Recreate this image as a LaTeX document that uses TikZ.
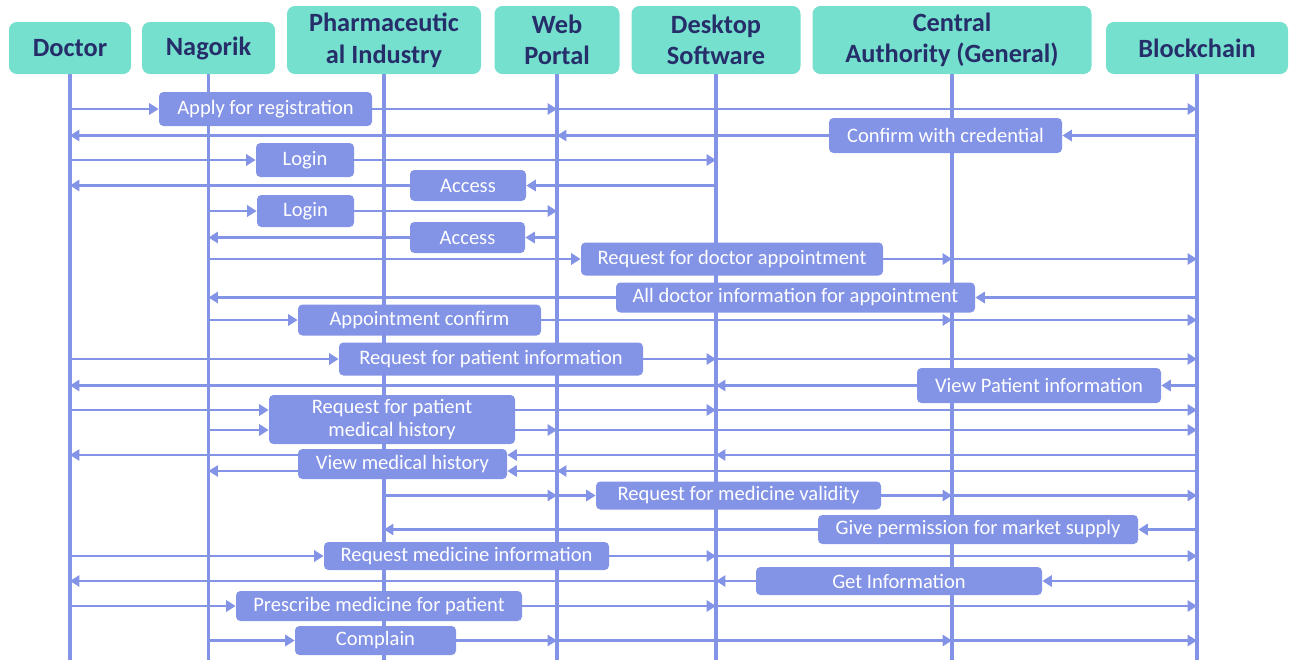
\documentclass[tikz,border=0pt]{standalone}
\usepackage{fontspec}
\setmainfont{Carlito}
\usepackage{tikz}
\usetikzlibrary{arrows.meta}
\pgfdeclarelayer{bg}
\pgfsetlayers{bg,main}
\definecolor{hdrfill}{HTML}{75E0CE}
\definecolor{hdrtext}{HTML}{262E6A}
\definecolor{msgblue}{HTML}{8393E6}
\tikzset{
    actor/.style={fill=hdrfill, text=hdrtext, rounded corners=4.5pt, align=center,
        inner sep=0pt, font=\fontsize{15}{18}\selectfont\bfseries},
    msgbox/.style={fill=msgblue, text=white, rounded corners=2.5pt, align=center,
        inner sep=0pt, font=\fontsize{11.7}{13.2}\selectfont},
    bw/.style={minimum width=#1*0.02cm},
    bh/.style={minimum height=#1*0.02cm},
    life/.style={draw=msgblue, line width=1.9pt},
    msg/.style={draw=msgblue, line width=1.6pt, -{Triangle[length=5.4pt,width=6.4pt]}},
}

\begin{document}
\begin{tikzpicture}[x=0.02cm, y=-0.02cm]
    \useasboundingbox (0,0) rectangle (1291,660);
    % actors
    \node[actor, bw=122, bh=52] (doc)  at (70,48)    {Doctor};
    \node[actor, bw=133, bh=52] (nag)  at (208.5,48) {Nagorik};
    \node[actor, bw=194, bh=68] (pha)  at (384,40)   {Pharmaceutic\\al Industry};
    \node[actor, bw=125, bh=68] (web)  at (557,40)   {Web\\Portal};
    \node[actor, bw=169, bh=68] (desk) at (716,40)   {Desktop\\Software};
    \node[actor, bw=279, bh=68] (cen)  at (952,40)   {Central\\Authority (General)};
    \node[actor, bw=182, bh=52] (bc)   at (1197,48)  {Blockchain};
    \coordinate (bot) at (0,660);
    \coordinate (h1) at (0,410);
    \coordinate (h2) at (0,430);
    \coordinate (v1) at (0,455);
    \coordinate (v2) at (0,471);

    % messages
    \node[msgbox, bw=213, bh=34] (apply)     at (265.5,109)  {Apply for registration};
    \node[msgbox, bw=233, bh=35] (confirm)   at (945.5,135.5) {Confirm with credential};
    \node[msgbox, bw=98,  bh=34] (logind)    at (305,160)    {Login};
    \node[msgbox, bw=116, bh=31] (accessd)   at (468,185.5)  {Access};
    \node[msgbox, bw=97,  bh=32] (loginn)    at (305.5,211)  {Login};
    \node[msgbox, bw=115, bh=31] (accessn)   at (467.5,237.5) {Access};
    \node[msgbox, bw=302, bh=33] (reqapp)    at (732,259)    {Request for doctor appointment};
    \node[msgbox, bw=359, bh=30] (docinfo)   at (795.5,297.5) {All doctor information for appointment};
    \node[msgbox, bw=243, bh=31] (appconf)   at (419.5,320)  {Appointment confirm};
    \node[msgbox, bw=304, bh=33] (reqpat)    at (491,359)    {Request for patient information};
    \node[msgbox, bw=244, bh=35] (viewpat)   at (1039,385.5) {View Patient information};
    \node[msgbox, bw=246, bh=49] (reqhist)   at (392,419.5)  {Request for patient\\medical history};
    \node[msgbox, bw=209, bh=30] (viewhist)  at (402.5,464)  {View medical history};
    \node[msgbox, bw=285, bh=28] (reqval)    at (738.5,495.5) {Request for medicine validity};
    \node[msgbox, bw=320, bh=29] (permit)    at (978,529.5)  {Give permission for market supply};
    \node[msgbox, bw=285, bh=28] (reqmed)    at (466.5,556)  {Request medicine information};
    \node[msgbox, bw=286, bh=28] (getinfo)   at (899,581)    {Get Information};
    \node[msgbox, bw=286, bh=30] (prescribe) at (379,606)    {Prescribe medicine for patient};
    \node[msgbox, bw=161, bh=29] (complain)  at (375.5,640.5) {Complain};

    \begin{pgfonlayer}{bg}
        \foreach \a in {doc,nag,pha,web,desk,cen,bc}
            \draw[life] (\a.south) -- (\a.south |- bot);

        \draw[msg] (doc |- apply) -- (apply.west);
        \draw[msg] (apply.east) -- (web |- apply);
        \draw[msg] (web |- apply) -- (bc |- apply);

        \draw[msg] (bc |- confirm) -- (confirm.east);
        \draw[msg] (confirm.west) -- (web |- confirm);
        \draw[msg] (web |- confirm) -- (doc |- confirm);

        \draw[msg] (doc |- logind) -- (logind.west);
        \draw[msg] (logind.east) -- (desk |- logind);

        \draw[msg] (desk |- accessd) -- (accessd.east);
        \draw[msg] (accessd.west) -- (doc |- accessd);

        \draw[msg] (nag |- loginn) -- (loginn.west);
        \draw[msg] (loginn.east) -- (web |- loginn);

        \draw[msg] (web |- accessn) -- (accessn.east);
        \draw[msg] (accessn.west) -- (nag |- accessn);

        \draw[msg] (nag |- reqapp) -- (reqapp.west);
        \draw[msg] (reqapp.east) -- (cen |- reqapp);
        \draw[msg] (cen |- reqapp) -- (bc |- reqapp);

        \draw[msg] (bc |- docinfo) -- (docinfo.east);
        \draw[msg] (docinfo.west) -- (nag |- docinfo);

        \draw[msg] (nag |- appconf) -- (appconf.west);
        \draw[msg] (appconf.east) -- (cen |- appconf);
        \draw[msg] (cen |- appconf) -- (bc |- appconf);

        \draw[msg] (doc |- reqpat) -- (reqpat.west);
        \draw[msg] (reqpat.east) -- (desk |- reqpat);
        \draw[msg] (desk |- reqpat) -- (bc |- reqpat);

        \draw[msg] (bc |- viewpat) -- (viewpat.east);
        \draw[msg] (viewpat.west) -- (desk |- viewpat);
        \draw[msg] (desk |- viewpat) -- (doc |- viewpat);

        \draw[msg] (doc |- h1) -- (reqhist.west |- h1);
        \draw[msg] (reqhist.east |- h1) -- (desk |- h1);
        \draw[msg] (desk |- h1) -- (bc |- h1);
        \draw[msg] (nag |- h2) -- (reqhist.west |- h2);
        \draw[msg] (reqhist.east |- h2) -- (web |- h2);
        \draw[msg] (web |- h2) -- (bc |- h2);

        \draw[msg] (bc |- v1) -- (desk |- v1);
        \draw[msg] (desk |- v1) -- (viewhist.east |- v1);
        \draw[msg] (viewhist.west |- v1) -- (doc |- v1);
        \draw[msg] (bc |- v2) -- (web |- v2);
        \draw[msg] (web |- v2) -- (viewhist.east |- v2);
        \draw[msg] (viewhist.west |- v2) -- (nag |- v2);

        \draw[msg] (pha |- reqval) -- (web |- reqval);
        \draw[msg] (web |- reqval) -- (reqval.west);
        \draw[msg] (reqval.east) -- (cen |- reqval);
        \draw[msg] (cen |- reqval) -- (bc |- reqval);

        \draw[msg] (bc |- permit) -- (permit.east);
        \draw[msg] (permit.west) -- (pha |- permit);

        \draw[msg] (doc |- reqmed) -- (reqmed.west);
        \draw[msg] (reqmed.east) -- (desk |- reqmed);
        \draw[msg] (desk |- reqmed) -- (bc |- reqmed);

        \draw[msg] (bc |- getinfo) -- (getinfo.east);
        \draw[msg] (getinfo.west) -- (desk |- getinfo);
        \draw[msg] (desk |- getinfo) -- (doc |- getinfo);

        \draw[msg] (doc |- prescribe) -- (prescribe.west);
        \draw[msg] (prescribe.east) -- (desk |- prescribe);
        \draw[msg] (desk |- prescribe) -- (bc |- prescribe);

        \draw[msg] (nag |- complain) -- (complain.west);
        \draw[msg] (complain.east) -- (web |- complain);
        \draw[msg] (web |- complain) -- (cen |- complain);
        \draw[msg] (cen |- complain) -- (bc |- complain);
    \end{pgfonlayer}
\end{tikzpicture}
\end{document}
